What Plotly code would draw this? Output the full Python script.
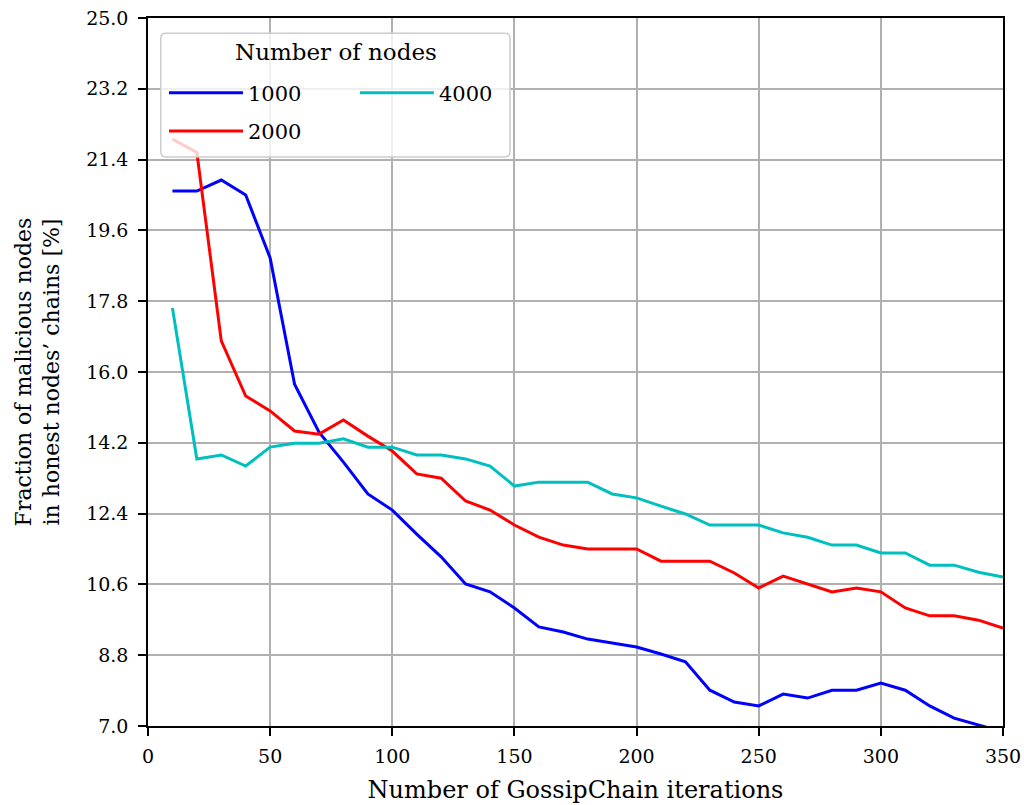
import plotly.graph_objects as go

iterations = list(range(10, 360, 10))

nodes_1000 = [20.60, 20.60, 20.88, 20.50, 18.90, 15.69, 14.47, 13.71, 12.90, 12.49,
              11.88, 11.30, 10.61, 10.41, 10.00, 9.52, 9.39, 9.21, 9.11, 9.01,
              8.83, 8.63, 7.91, 7.61, 7.51, 7.81, 7.71, 7.91, 7.91, 8.09,
              7.91, 7.51, 7.20, 7.02, 6.85]
nodes_2000 = [21.92, 21.58, 16.79, 15.39, 15.01, 14.50, 14.42, 14.78, 14.37, 13.99,
              13.41, 13.30, 12.72, 12.49, 12.11, 11.80, 11.60, 11.50, 11.50, 11.50,
              11.19, 11.19, 11.19, 10.89, 10.51, 10.81, 10.61, 10.41, 10.51, 10.41,
              10.00, 9.80, 9.80, 9.69, 9.49]
nodes_4000 = [17.63, 13.79, 13.89, 13.61, 14.09, 14.19, 14.19, 14.30, 14.09, 14.09,
              13.89, 13.89, 13.79, 13.61, 13.10, 13.20, 13.20, 13.20, 12.90, 12.80,
              12.59, 12.39, 12.11, 12.11, 12.11, 11.91, 11.80, 11.60, 11.60, 11.40,
              11.40, 11.09, 11.09, 10.91, 10.79]

x_ticks = [0, 50, 100, 150, 200, 250, 300, 350]
y_ticks = [7.0, 8.8, 10.6, 12.4, 14.2, 16.0, 17.8, 19.6, 21.4, 23.2, 25.0]

FONT = "DejaVu Serif"

fig = go.Figure()
fig.add_trace(go.Scatter(x=iterations, y=nodes_1000, mode="lines", name="1000",
                         line=dict(color="#0000ff", width=3), legend="legend",
                         showlegend=True))
fig.add_trace(go.Scatter(x=iterations, y=nodes_2000, mode="lines", name="2000",
                         line=dict(color="#ff0000", width=3), legend="legend3",
                         showlegend=True))
fig.add_trace(go.Scatter(x=iterations, y=nodes_4000, mode="lines", name="4000",
                         line=dict(color="#00bfbf", width=3), legend="legend2",
                         showlegend=True))

axis_common = dict(
    showline=True, linecolor="black", linewidth=1.5, mirror=True,
    ticks="outside", ticklen=8, tickwidth=1.5, tickcolor="black",
    showgrid=True, gridcolor="#b0b0b0", gridwidth=1.5,
    zeroline=False, automargin=False, ticklabeloverflow="allow",
    tickfont=dict(family=FONT, size=19, color="black"),
)

fig.update_xaxes(range=[0, 350], tickvals=x_ticks, ticklabelstandoff=4,
                 title=dict(text="Number of GossipChain iterations",
                            font=dict(family=FONT, size=24, color="black"), standoff=16),
                 **axis_common)
fig.update_yaxes(range=[7.0, 25.0], tickvals=y_ticks, ticktext=[f"{v:.1f}" for v in y_ticks],
                 ticklabelstandoff=6,
                 title=dict(text="Fraction of malicious nodes<br>in honest nodes’ chains [%]",
                            font=dict(family=FONT, size=22, color="black"), standoff=20),
                 **axis_common)

# legend box (rounded rectangle) in paper coordinates
x0, x1, y0, y1, r = 0.0149, 0.4234, 0.8037, 0.9784, 0.006
ry = r * 855 / 708
path = (f"M {x0+r},{y0} L {x1-r},{y0} Q {x1},{y0} {x1},{y0+ry} "
        f"L {x1},{y1-ry} Q {x1},{y1} {x1-r},{y1} L {x0+r},{y1} Q {x0},{y1} {x0},{y1-ry} "
        f"L {x0},{y0+ry} Q {x0},{y0} {x0+r},{y0} Z")
fig.add_shape(type="path", path=path, xref="paper", yref="paper",
              fillcolor="rgba(255,255,255,0.8)", line=dict(color="#cccccc", width=1.5),
              layer="above")
fig.add_annotation(text="Number of nodes", xref="paper", yref="paper",
                   x=0.22, y=0.952, showarrow=False, xanchor="center", yanchor="middle",
                   font=dict(family=FONT, size=23, color="black"))

legend_common = dict(bgcolor="rgba(0,0,0,0)", borderwidth=0,
                     font=dict(family=FONT, size=21, color="black"),
                     xanchor="left", yanchor="middle", itemwidth=74, orientation="v")

fig.update_layout(
    width=1024, height=805,
    margin=dict(l=148, r=21, t=18, b=79),
    plot_bgcolor="white", paper_bgcolor="white",
    showlegend=True,
    legend=dict(x=0.0187, y=0.894, **legend_common),
    legend3=dict(x=0.0187, y=0.840, **legend_common),
    legend2=dict(x=0.242, y=0.894, **legend_common),
)

fig.write_html("out.html", config={"displayModeBar": False},
               post_script="document.body.style.margin='0';document.body.style.overflow='hidden';")
